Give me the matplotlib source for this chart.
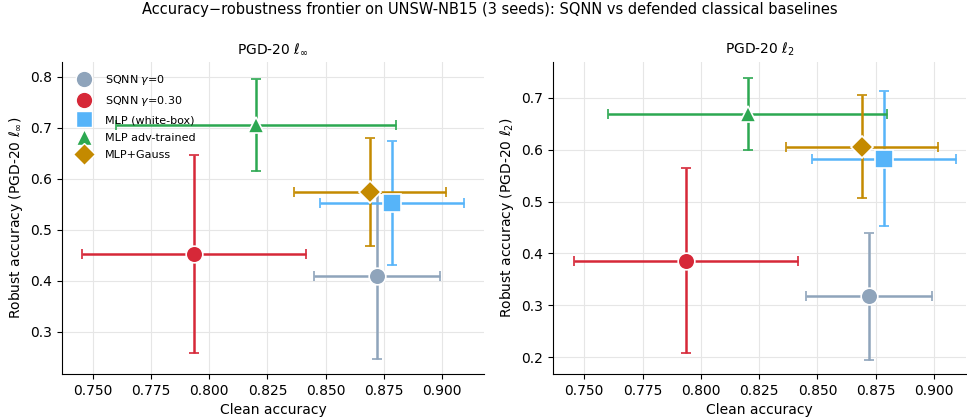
import matplotlib
matplotlib.use("Agg")
import matplotlib.pyplot as plt
from matplotlib.lines import Line2D

#---- Data -------------------------------------------------------------------#

methods = ["SQNN $\\gamma$=0", "SQNN $\\gamma$=0.30", "MLP (white-box)",
           "MLP adv-trained", "MLP+Gauss"]
colors = ["#8fa4bb", "#d62838", "#56b4f9", "#2ca851", "#c48a00"]
markers = ["o", "o", "s", "^", "D"]

clean_mean = [0.872, 0.7935, 0.8785, 0.820, 0.869]
clean_std = [0.027, 0.048, 0.031, 0.060, 0.0325]

linf_mean = [0.410, 0.453, 0.553, 0.706, 0.575]
linf_std = [0.163, 0.195, 0.121, 0.091, 0.106]

l2_mean = [0.317, 0.386, 0.583, 0.669, 0.606]
l2_std = [0.123, 0.178, 0.130, 0.070, 0.100]

#---- Plotting ---------------------------------------------------------------#

fig = plt.figure(figsize=(9.67, 4.2), dpi=100)
ax1 = fig.add_axes([0.0641, 0.1095, 0.4364, 0.7429])
ax2 = fig.add_axes([0.5719, 0.1095, 0.4271, 0.7429])

panels = [(ax1, linf_mean, linf_std, "PGD-20 $\\ell_\\infty$",
           "Robust accuracy (PGD-20 $\\ell_\\infty$)", (0.2176, 0.8294), (0.7369, 0.9179)),
          (ax2, l2_mean, l2_std, "PGD-20 $\\ell_2$",
           "Robust accuracy (PGD-20 $\\ell_2$)", (0.1672, 0.7695), (0.7366, 0.9137))]

for ax, ym, ys, title, ylab, ylim, xlim in panels:
    for i in range(len(methods)):
        ms = 13 if markers[i] == "s" else (12 if markers[i] != "D" else 11)
        ax.errorbar(clean_mean[i], ym[i], xerr=clean_std[i], yerr=ys[i],
                    fmt=markers[i], color=colors[i], ms=ms, mec="white", mew=1.2,
                    elinewidth=1.8, capsize=3.5, capthick=1.3, zorder=3)
    ax.set_title(title, fontsize=10)
    ax.set_xlabel("Clean accuracy", fontsize=10)
    ax.set_ylabel(ylab, fontsize=10)
    ax.set_xlim(*xlim)
    ax.set_ylim(*ylim)
    ax.set_xticks([0.750, 0.775, 0.800, 0.825, 0.850, 0.875, 0.900])
    ax.tick_params(labelsize=10)
    ax.grid(True, color="#e6e6e6", lw=0.8)
    ax.set_axisbelow(True)
    ax.spines["top"].set_visible(False)
    ax.spines["right"].set_visible(False)

handles = [Line2D([], [], ls="none", marker=markers[i], color=colors[i],
                  ms=12 if markers[i] != "D" else 11, mec="white", mew=1.0,
                  label=methods[i]) for i in range(len(methods))]
ax1.legend(handles=handles, loc="upper left", fontsize=8, frameon=False,
           handletextpad=0.9, borderaxespad=0.55, labelspacing=0.66)

fig.suptitle("Accuracy\u2212robustness frontier on UNSW-NB15 (3 seeds): "
             "SQNN vs defended classical baselines", fontsize=10.5,
             x=0.507, y=0.995)

plt.savefig("out.png", dpi=100)
